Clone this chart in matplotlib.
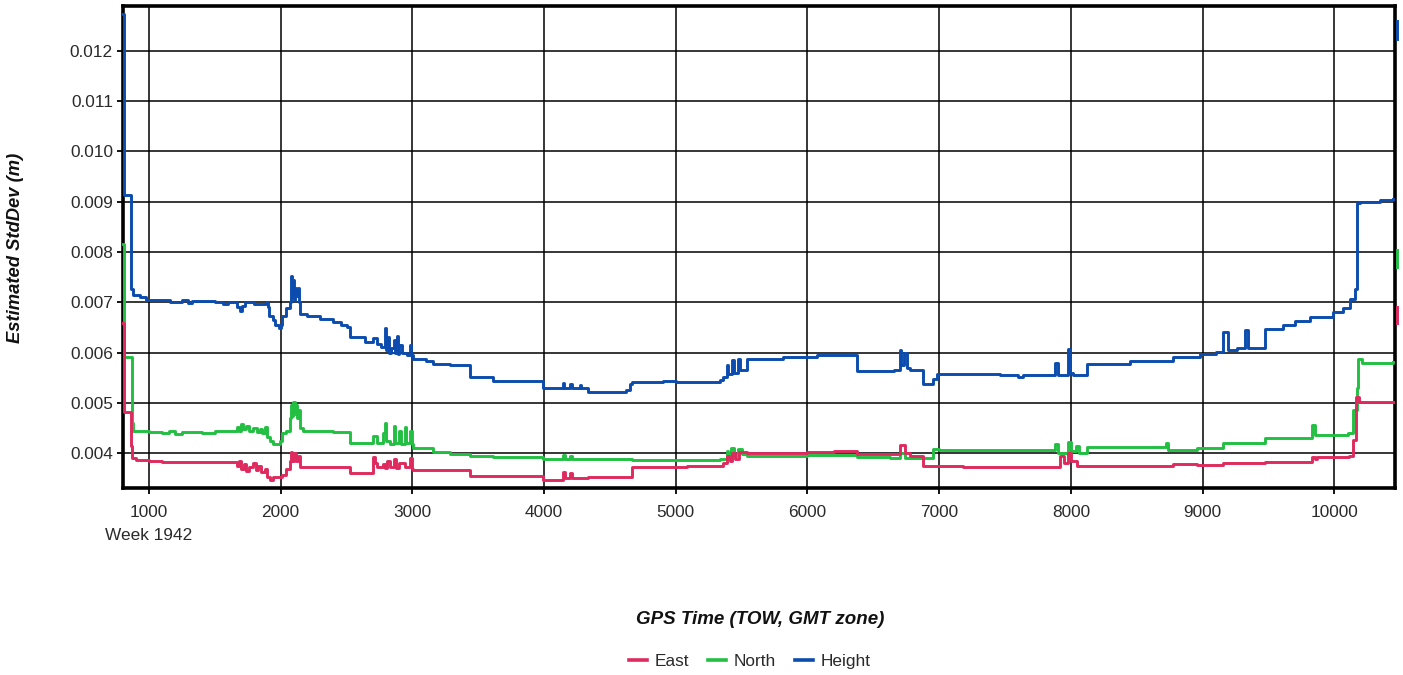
import matplotlib
matplotlib.use("Agg")
import matplotlib.pyplot as plt
from matplotlib.lines import Line2D

plt.rcParams['font.family'] = ['Liberation Sans', 'DejaVu Sans']

# ---------------- data ----------------
east_x = [800, 808, 860, 870, 900, 1000, 1100, 1300, 1640,
          1668, 1680, 1700, 1720, 1740, 1760, 1790, 1810, 1830, 1850, 1880,
          1896, 1919, 1942, 2010, 2040, 2071, 2080, 2088, 2100, 2115, 2130,
          2147, 2526, 2700, 2715, 2731, 2777, 2792, 2810, 2830, 2860, 2875,
          2900, 2944, 2982, 2997, 3005, 3437, 3992, 4144, 4160, 4200, 4215,
          4333, 4667, 5085, 5360, 5389, 5410, 5430, 5450, 5480, 5541, 5996,
          6200, 6376, 6702, 6740, 6778, 6877, 7181, 7900, 7920, 7950, 7978,
          8000, 8046, 8775, 8957, 9155, 9473, 9830, 9853, 9868, 10110, 10142,
          10165, 10190, 10446]
east_y = [0.00659, 0.00481, 0.00414, 0.00390, 0.00387, 0.00385, 0.00383, 0.00382, 0.00382,
          0.00375, 0.00385, 0.00368, 0.00378, 0.00365, 0.00372, 0.00380, 0.00366, 0.00374, 0.00362, 0.00368,
          0.00352, 0.00347, 0.00352, 0.00357, 0.00368, 0.00385, 0.00402, 0.00385, 0.00400, 0.00385, 0.00395,
          0.00372, 0.00360, 0.00392, 0.00380, 0.00372, 0.00378, 0.00370, 0.00385, 0.00372, 0.00388, 0.00370,
          0.00380, 0.00372, 0.00390, 0.00368, 0.00366, 0.00354, 0.00347, 0.00362, 0.00350, 0.00360, 0.00350,
          0.00353, 0.00372, 0.00374, 0.00380, 0.00395, 0.00385, 0.00400, 0.00388, 0.00402, 0.00400, 0.00402,
          0.00404, 0.00398, 0.00416, 0.00400, 0.00395, 0.00374, 0.00372, 0.00372, 0.00395, 0.00380, 0.00400,
          0.00385, 0.00374, 0.00378, 0.00376, 0.00381, 0.00383, 0.00392, 0.00388, 0.00392, 0.00395, 0.00426,
          0.00511, 0.00501, 0.00501]

north_x = [800, 808, 868, 880, 1000, 1100, 1150, 1200, 1250, 1400, 1500, 1640,
           1668, 1680, 1700, 1715, 1740, 1760, 1790, 1820, 1840, 1860, 1880,
           1896, 1920, 1942, 1995, 2010, 2040, 2071, 2080, 2088, 2095, 2105,
           2115, 2125, 2135, 2147, 2170, 2400, 2526, 2700, 2731, 2777, 2790,
           2800, 2830, 2860, 2870, 2900, 2910, 2944, 2955, 2982, 2997, 3005,
           3156, 3285, 3437, 3612, 3992, 4144, 4160, 4200, 4215, 4667, 5335,
           5389, 5400, 5420, 5440, 5470, 5500, 5541, 5996, 6376, 6626, 6702,
           6740, 6953, 7000, 7864, 7879, 7902, 7978, 8000, 8040, 8060, 8122,
           8699, 8720, 8740, 8957, 9155, 9473, 9830, 9853, 10103, 10142, 10172,
           10180, 10210, 10446]
north_y = [0.00815, 0.00592, 0.00461, 0.00444, 0.00443, 0.00440, 0.00444, 0.00438, 0.00442, 0.00440, 0.00444, 0.00444,
           0.00452, 0.00445, 0.00458, 0.00448, 0.00455, 0.00445, 0.00450, 0.00442, 0.00448, 0.00440, 0.00452,
           0.00432, 0.00425, 0.00418, 0.00425, 0.00440, 0.00445, 0.00470, 0.00495, 0.00475, 0.00501, 0.00478,
           0.00495, 0.00470, 0.00485, 0.00450, 0.00445, 0.00443, 0.00420, 0.00435, 0.00420, 0.00440, 0.00460,
           0.00425, 0.00418, 0.00455, 0.00420, 0.00445, 0.00418, 0.00452, 0.00420, 0.00445, 0.00418, 0.00410,
           0.00402, 0.00398, 0.00395, 0.00392, 0.00388, 0.00396, 0.00388, 0.00394, 0.00388, 0.00387, 0.00388,
           0.00405, 0.00392, 0.00410, 0.00395, 0.00408, 0.00398, 0.00394, 0.00396, 0.00392, 0.00390, 0.00400,
           0.00390, 0.00408, 0.00406, 0.00406, 0.00418, 0.00400, 0.00422, 0.00405, 0.00415, 0.00400, 0.00412,
           0.00412, 0.00420, 0.00407, 0.00411, 0.00420, 0.00430, 0.00456, 0.00436, 0.00440, 0.00485, 0.00530,
           0.00588, 0.00580, 0.00581]

height_x = [800, 808, 862, 875, 930, 980, 1160, 1250, 1300, 1330, 1500, 1560, 1600,
            1668, 1690, 1710, 1730, 1800, 1890, 1900, 1915, 1940, 1960, 1985, 2000,
            2010, 2040, 2070, 2080, 2088, 2095, 2100, 2110, 2120, 2130, 2140, 2150,
            2200, 2300, 2400, 2460, 2500, 2526, 2640, 2700, 2730, 2760, 2790, 2800,
            2815, 2825, 2840, 2860, 2870, 2880, 2890, 2900, 2920, 2960, 2980, 2990,
            3005, 3100, 3156, 3285, 3437, 3612, 3992, 4144, 4155, 4200, 4215, 4270,
            4280, 4333, 4620, 4652, 4667, 4900, 5000, 5335, 5360, 5389, 5400, 5430,
            5440, 5470, 5490, 5541, 5814, 6072, 6376, 6660, 6702, 6712, 6735, 6756,
            6778, 6877, 6953, 6984, 7462, 7600, 7640, 7879, 7902, 7978, 7993, 8016,
            8122, 8449, 8775, 8980, 9100, 9155, 9193, 9261, 9321, 9344, 9473, 9610,
            9700, 9815, 9990, 10065, 10119, 10157, 10172, 10195, 10350, 10446]
height_y = [0.01273, 0.00914, 0.00727, 0.00715, 0.00710, 0.00705, 0.00700, 0.00705, 0.00698, 0.00703, 0.00700, 0.00697, 0.00701,
            0.00690, 0.00683, 0.00692, 0.00700, 0.00697, 0.00700, 0.00690, 0.00672, 0.00665, 0.00655, 0.00648, 0.00655,
            0.00672, 0.00689, 0.00700, 0.00752, 0.00710, 0.00745, 0.00705, 0.00729, 0.00712, 0.00729, 0.00700, 0.00677,
            0.00672, 0.00666, 0.00660, 0.00655, 0.00650, 0.00630, 0.00622, 0.00628, 0.00618, 0.00612, 0.00648, 0.00605,
            0.00630, 0.00600, 0.00610, 0.00625, 0.00600, 0.00632, 0.00598, 0.00615, 0.00600, 0.00596, 0.00615, 0.00595,
            0.00588, 0.00584, 0.00578, 0.00575, 0.00552, 0.00544, 0.00529, 0.00540, 0.00529, 0.00537, 0.00529, 0.00535,
            0.00529, 0.00521, 0.00525, 0.00538, 0.00541, 0.00543, 0.00541, 0.00545, 0.00552, 0.00575, 0.00558, 0.00585,
            0.00560, 0.00588, 0.00565, 0.00588, 0.00592, 0.00596, 0.00564, 0.00566, 0.00606, 0.00575, 0.00600, 0.00570,
            0.00565, 0.00537, 0.00548, 0.00558, 0.00555, 0.00551, 0.00555, 0.00580, 0.00556, 0.00608, 0.00560, 0.00556,
            0.00578, 0.00584, 0.00592, 0.00598, 0.00602, 0.00640, 0.00605, 0.00610, 0.00645, 0.00610, 0.00647, 0.00655,
            0.00662, 0.00670, 0.00680, 0.00689, 0.00707, 0.00727, 0.00897, 0.00900, 0.00903, 0.00905]

# short end marks of each series drawn at the right edge
end_x = 10478
east_end = [0.00658, 0.00691]
north_end = [0.00771, 0.00804]
height_end = [0.01222, 0.01258]

x_ticks = [1000, 2000, 3000, 4000, 5000, 6000, 7000, 8000, 9000, 10000]
y_ticks = [0.004, 0.005, 0.006, 0.007, 0.008, 0.009, 0.010, 0.011, 0.012]
week_label = "Week 1942"
series_names = ["East", "North", "Height"]
colors = {"East": "#DE2A5E", "North": "#22BF42", "Height": "#0B4CAE"}

# ---------------- figure ----------------
W, H = 1403, 675
fig = plt.figure(figsize=(W / 100, H / 100), dpi=100)
ax = fig.add_axes([123.3 / W, 1 - 488 / H, (1395 - 123.3) / W, (488 - 6) / H])

ax.set_xlim(805, 10461)
ax.set_ylim(0.00331, 0.012885)

lw = 2.1
ax.plot(north_x, north_y, drawstyle='steps-post', color=colors["North"], lw=lw, zorder=8, clip_on=False)
ax.plot(east_x, east_y, drawstyle='steps-post', color=colors["East"], lw=lw, zorder=9, clip_on=False)
ax.plot(height_x, height_y, drawstyle='steps-post', color=colors["Height"], lw=lw, zorder=10, clip_on=False)
for vals, name in [(east_end, "East"), (north_end, "North"), (height_end, "Height")]:
    ax.plot([end_x, end_x], vals, color=colors[name], lw=lw, clip_on=False, zorder=11)

ax.set_xticks(x_ticks)
ax.set_xticklabels([str(v) for v in x_ticks])
ax.set_yticks(y_ticks)
ax.set_yticklabels([f"{v:.3f}" for v in y_ticks])
ax.grid(True, color='black', lw=1.1, zorder=1)
ax.set_axisbelow(True)

for sp in ax.spines.values():
    sp.set_linewidth(2.6)
    sp.set_color('black')
    sp.set_zorder(7)

ax.tick_params(axis='both', direction='out', length=4.5, width=1.3, color='black',
               labelsize=12.4, labelcolor='#2a2a2a')
ax.tick_params(axis='y', pad=3)
ax.tick_params(axis='x', pad=8)

ax.annotate(week_label, xy=(1000, 0), xycoords=('data', 'axes fraction'),
            xytext=(0, -47), textcoords='offset pixels', ha='center', va='center',
            fontsize=12.4, color='#2a2a2a')

fig.text(760 / W, 1 - 620 / H, "GPS Time (TOW, GMT zone)", ha='center', va='center',
         fontsize=13.5, fontweight='bold', fontstyle='italic', color='#111111')
fig.text(16 / W, 1 - 248 / H, "Estimated StdDev (m)", ha='center', va='center',
         rotation=90, fontsize=13.2, fontweight='bold', fontstyle='italic', color='#111111')

handles = [Line2D([], [], color=colors[n], lw=2.6) for n in series_names]
fig.legend(handles, series_names, loc='center', bbox_to_anchor=(750 / W, 1 - 661 / H),
           ncol=3, frameon=False, fontsize=12.4, handlelength=1.05, handletextpad=0.45,
           columnspacing=1.1, labelcolor='#2a2a2a')

fig.savefig("out.png", dpi=100)
